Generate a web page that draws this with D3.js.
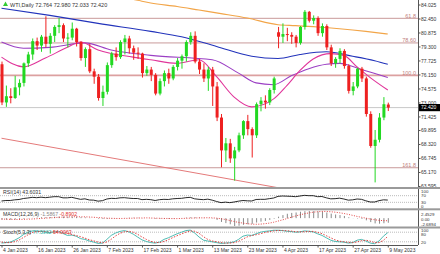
<!DOCTYPE html>
<html>
<head>
<meta charset="utf-8">
<script src="https://cdn.jsdelivr.net/npm/d3@7"></script>
<style>
body { margin: 0; background: #fff; }
svg { display: block; font-family: "Liberation Sans", Arial, sans-serif; }
</style>
</head>
<body>
<svg id="chart" width="440" height="254"></svg>
<script>
// daily bars, 4 Jan 2023 .. 9 May 2023 (bar index 0..88)
const opens  = [77.3,73.0,73.7,73.5,74.7,75.2,77.4,78.4,79.9,79.4,80.4,79.6,80.5,81.5,81.7,80.2,80.3,81.3,79.8,78.0,79.0,76.5,75.9,73.5,74.2,77.2,78.5,78.1,79.8,80.2,79.1,78.6,78.5,76.3,76.7,76.1,74.0,75.4,76.3,75.7,77.0,77.7,78.2,79.8,80.5,77.6,76.7,75.7,76.7,74.8,71.3,67.6,68.4,66.7,67.6,69.3,70.9,70.0,69.3,72.8,73.2,73.0,74.4,80.9,80.4,80.7,80.6,80.4,79.7,81.5,83.2,82.2,82.5,80.8,81.6,79.2,77.4,77.9,78.8,77.1,74.3,74.8,76.8,75.7,71.7,68.1,68.8,71.3,72.764];
const highs  = [77.6,74.9,74.6,76.0,75.6,77.5,78.7,80.2,80.3,80.6,82.7,80.8,81.7,82.5,81.9,80.8,82.0,81.4,79.9,79.2,79.6,76.8,76.2,74.9,77.5,78.7,79.2,80.0,80.6,80.5,79.4,79.2,78.6,77.1,77.0,76.3,75.7,76.6,76.8,77.2,78.0,78.4,80.0,80.9,81.0,77.9,77.4,77.0,77.0,75.3,71.7,69.0,68.9,68.0,69.6,71.0,71.6,70.2,73.0,73.6,73.8,74.6,75.9,81.5,81.9,81.4,80.9,80.6,81.6,83.4,83.3,82.8,82.7,81.9,81.8,79.5,78.1,79.1,79.0,77.3,75.3,76.9,77.0,75.9,72.0,69.9,71.8,73.6,72.980];
const lows   = [72.7,72.5,72.9,73.4,73.8,74.8,77.0,77.8,78.9,78.7,79.2,78.5,79.8,80.8,79.8,79.2,80.0,79.3,77.7,77.0,76.3,75.1,73.2,72.6,73.9,76.9,77.7,77.9,78.4,78.5,77.8,77.9,75.8,76.0,75.4,73.8,73.8,74.8,75.1,75.5,76.6,76.8,77.6,79.5,77.4,76.2,75.3,74.3,72.6,70.9,65.7,66.3,66.2,64.2,67.4,68.9,69.3,66.8,69.0,72.0,72.3,72.7,74.0,79.1,79.7,79.9,79.6,79.2,79.5,81.2,82.0,81.8,80.5,80.4,78.9,77.1,76.9,77.4,76.8,74.0,73.8,74.6,75.3,71.4,67.9,64.0,68.5,71.0,72.033];
const closes = [73.0,73.7,73.5,74.7,75.2,77.4,78.4,79.9,79.4,80.4,79.6,80.5,81.5,81.7,80.2,80.3,81.3,79.8,78.0,79.0,76.5,75.9,73.5,74.2,77.2,78.5,78.1,79.8,80.2,79.1,78.6,78.5,76.3,76.7,76.1,74.0,75.4,76.3,75.7,77.0,77.7,78.2,79.8,80.5,77.6,76.7,75.7,76.7,74.8,71.3,67.6,68.4,66.7,67.6,69.3,70.9,70.0,69.3,72.8,73.2,73.0,74.4,75.7,80.4,80.7,80.6,80.4,79.7,81.5,83.2,82.2,82.5,80.8,81.6,79.2,77.4,77.9,78.8,77.1,74.3,74.8,76.8,75.7,71.7,68.1,68.8,71.3,72.8,72.420];

// moving averages: [bar, price]
const maOrange  = [[20,85.6],[26,85.0],[31,84.5],[34,84.2],[40,83.8],[45,83.4],[50,83.0],[56,82.5],[63,81.75],[67,81.65],[72,81.5],[77,81.3],[83,81.0],[88,80.7]];
const maBlue    = [[0,83.6],[11,82.8],[22,81.9],[34,81.0],[41,80.4],[49,79.3],[57,78.2],[63,77.95],[68,78.4],[74,78.7],[80,78.2],[85,77.7],[88,77.3]];
const maPurple  = [[0,79.8],[5,79.1],[11,79.2],[19,79.7],[25,78.9],[34,78.3],[48,77.8],[54,76.3],[58,75.2],[62,75.0],[66,76.0],[70,76.8],[74,77.3],[77,77.4],[82,76.7],[88,75.8]];
const maMagenta = [[0,78.1],[5,77.0],[10,78.0],[15,79.2],[18,79.8],[22,78.9],[30,78.1],[34,77.8],[40,77.4],[45,77.8],[49,75.9],[53,73.6],[57,72.5],[62,73.4],[65,74.9],[68,76.6],[71,77.9],[75,78.5],[78,78.3],[81,77.0],[84,75.8],[88,74.4]];

const fibLevels = [{label: "61.8", price: 82.47}, {label: "78.60", price: 79.70}, {label: "100.0", price: 76.05}, {label: "161.8", price: 65.65}];
const trendLine = [[0, 68.97], [63, 63.40]];
const lastPrice = 72.420;

const priceTicks = [84.025, 82.450, 80.875, 79.300, 77.725, 76.150, 74.575, 73.000, 71.425, 69.895, 68.320, 66.745, 65.170, 63.595];
const dateTickBars = [0, 8, 16, 24, 32, 40, 48, 56, 64, 72, 80, 88];
const dateTickLabels = ["4 Jan 2023", "16 Jan 2023", "26 Jan 2023", "7 Feb 2023", "17 Feb 2023", "1 Mar 2023", "13 Mar 2023", "23 Mar 2023", "4 Apr 2023", "17 Apr 2023", "27 Apr 2023", "9 May 2023"];

const rsi = [38,41,41,45,47,53,56,60,58,61,58,61,64,64,57,57,60,54,48,51,44,43,37,40,50,54,53,57,58,55,53,53,46,48,46,41,46,48,47,51,53,54,58,60,51,48,46,49,43,35,28,31,28,32,37,41,39,38,47,48,48,52,56,66,68,67,66,64,68,72,70,70,64,65,57,51,52,55,50,43,45,50,48,39,32,32,40,45,43.6];
const macdMain = [-0.5,-0.55,-0.55,-0.5,-0.4,-0.25,-0.1,0.1,0.2,0.3,0.35,0.4,0.5,0.55,0.55,0.5,0.5,0.45,0.35,0.25,0.15,0.0,-0.2,-0.3,-0.25,-0.15,-0.1,0.0,0.1,0.15,0.15,0.15,0.05,0.0,-0.05,-0.2,-0.2,-0.2,-0.2,-0.1,0.0,0.05,0.2,0.3,0.3,0.2,0.1,0.05,-0.1,-0.6,-1.3,-1.7,-2.1,-2.69,-2.6,-2.3,-2.1,-1.95,-1.5,-1.2,-0.95,-0.6,-0.2,0.5,1.05,1.5,1.8,1.95,2.2,2.4,2.45,2.4,2.3,2.2,1.95,1.55,1.25,1.05,0.75,0.3,-0.05,-0.15,-0.3,-0.75,-1.35,-1.8,-1.9,-1.75,-1.5867];
const macdSignal = [-0.3,-0.35,-0.4,-0.45,-0.45,-0.4,-0.35,-0.3,-0.2,-0.1,0.0,0.1,0.2,0.3,0.35,0.4,0.45,0.5,0.45,0.45,0.4,0.3,0.2,0.1,0.0,-0.05,-0.1,-0.1,-0.1,-0.05,0.0,0.05,0.05,0.1,0.05,0.0,-0.05,-0.1,-0.1,-0.15,-0.15,-0.1,-0.05,0.0,0.05,0.1,0.1,0.15,0.1,0.0,-0.2,-0.45,-0.8,-1.15,-1.45,-1.7,-1.9,-2.05,-2.1,-2.05,-1.9,-1.7,-1.4,-1.0,-0.6,-0.15,0.3,0.75,1.15,1.5,1.8,2.05,2.2,2.3,2.3,2.2,2.05,1.85,1.6,1.3,0.95,0.6,0.3,0.0,-0.3,-0.55,-0.75,-0.85,-0.8902];
const stochMain = [12,15,18,30,45,65,80,88,85,86,80,78,82,85,72,60,62,55,40,35,25,18,10,12,35,60,75,85,90,82,68,50,32,22,15,12,18,35,45,58,70,80,90,93,75,50,30,25,20,15,10,12,14,20,35,55,62,60,70,80,85,88,92,92,90,86,84,80,82,88,86,82,70,60,45,30,22,20,18,12,15,30,35,25,12,8,25,55,77.6];
const stochSignal = [18,15,15,21,31,47,63,78,84,86,84,81,80,82,80,72,65,59,52,43,33,26,18,13,19,36,57,73,83,86,80,67,50,35,23,16,15,22,33,46,58,69,80,88,86,73,52,35,25,20,15,12,12,15,23,37,51,59,64,70,78,84,88,91,91,89,87,83,82,83,85,85,79,71,58,45,32,24,20,17,15,19,27,30,24,15,15,29,54];

const svg = d3.select("#chart");
const plotRight = 418;
const green = "#22d822", red = "#ee2020";

const x = d3.scaleLinear().domain([0, 88]).range([1.5, 387.8]);
const yP = d3.scaleLinear().domain([63.595, 84.025]).range([186, 4.5]);

svg.append("rect").attr("width", 440).attr("height", 254).attr("fill", "#fff");

svg.append("clipPath").attr("id", "mainClip")
  .append("rect").attr("x", 0).attr("y", 0).attr("width", plotRight).attr("height", 187);

const main = svg.append("g").attr("clip-path", "url(#mainClip)");

// fibonacci levels
main.selectAll(".fib").data(fibLevels).enter().append("line")
  .attr("x1", 0).attr("x2", plotRight)
  .attr("y1", d => yP(d.price)).attr("y2", d => yP(d.price))
  .attr("stroke", d => d.label === "100.0" ? "#dca0a0" : "#c99a9a")
  .attr("stroke-width", d => d.label === "100.0" ? 1.6 : 1);

// trend line
main.append("line")
  .attr("x1", x(trendLine[0][0])).attr("y1", yP(trendLine[0][1]))
  .attr("x2", x(trendLine[1][0])).attr("y2", yP(trendLine[1][1]))
  .attr("stroke", "#e47a7a").attr("stroke-width", 1);

// last price line
main.append("line")
  .attr("x1", 0).attr("x2", plotRight)
  .attr("y1", yP(lastPrice)).attr("y2", yP(lastPrice))
  .attr("stroke", "#c8c8c8").attr("stroke-width", 1);

// moving averages
const maLine = d3.line().x(d => x(d[0])).y(d => yP(d[1])).curve(d3.curveMonotoneX);
[[maOrange, "#f2a548"], [maBlue, "#2233bb"], [maPurple, "#9b3fc4"], [maMagenta, "#e0359a"]].forEach(([pts, col]) => {
  main.append("path").attr("d", maLine(pts)).attr("fill", "none")
    .attr("stroke", col).attr("stroke-width", 1.1);
});

// candles
const bars = d3.range(opens.length);
main.selectAll(".wick").data(bars).enter().append("line")
  .attr("x1", i => x(i) + 0.5).attr("x2", i => x(i) + 0.5)
  .attr("y1", i => yP(highs[i])).attr("y2", i => yP(lows[i]))
  .attr("stroke", i => closes[i] >= opens[i] ? green : red).attr("stroke-width", 1);
main.selectAll(".body").data(bars).enter().append("rect")
  .attr("x", i => x(i) - 1).attr("width", 3)
  .attr("y", i => yP(Math.max(opens[i], closes[i])))
  .attr("height", i => Math.max(1, Math.abs(yP(opens[i]) - yP(closes[i]))))
  .attr("fill", i => closes[i] >= opens[i] ? green : red);

// fib labels
svg.selectAll(".fibLabel").data(fibLevels).enter().append("text")
  .attr("x", 416).attr("y", d => yP(d.price) - 0.8)
  .attr("text-anchor", "end").attr("font-size", 5.5).attr("fill", "#c08080")
  .text(d => d.label);

// title
svg.append("path").attr("d", "M3,6 L5.5,1.5 L8,6 Z").attr("fill", "#3c3");
svg.append("text").attr("x", 10).attr("y", 6.5).attr("font-size", 5.5).attr("fill", "#333")
  .text("WTI,Daily  72.764 72.980 72.033 72.420");

// price axis
svg.append("line").attr("x1", plotRight + 0.5).attr("x2", plotRight + 0.5).attr("y1", 0).attr("y2", 245)
  .attr("stroke", "#555").attr("stroke-width", 1);
const axP = svg.append("g").attr("transform", `translate(${plotRight + 0.5},0)`)
  .call(d3.axisRight(yP).tickValues(priceTicks).tickSize(2).tickFormat(d3.format(".3f")));
axP.select(".domain").remove();
axP.selectAll("line").attr("stroke", "#555");
axP.selectAll("text").attr("font-size", 5).attr("fill", "#333").attr("x", 2.5)
  .attr("font-family", "Liberation Sans, Arial, sans-serif");

// last price box
svg.append("rect").attr("x", plotRight + 1).attr("y", yP(lastPrice) - 3.6).attr("width", 21).attr("height", 7.2).attr("fill", "#000");
svg.append("text").attr("x", plotRight + 3).attr("y", yP(lastPrice) + 1.8).attr("font-size", 5).attr("fill", "#fff")
  .text(lastPrice.toFixed(3));

// panel separators
[[187, 2], [208.3, 2], [226.5, 2]].forEach(([y0, h]) => {
  svg.append("rect").attr("x", 0).attr("y", y0).attr("width", 440).attr("height", h).attr("fill", "#9a9a9a");
});

const sideLabel = (t, yy) => svg.append("text").attr("x", 421).attr("y", yy)
  .attr("font-size", 4.4).attr("fill", "#333").text(t);

// RSI panel
const yR = d3.scaleLinear().domain([0, 100]).range([207.3, 190.7]);
[70, 30].forEach(v => svg.append("line").attr("x1", 0).attr("x2", plotRight).attr("y1", yR(v)).attr("y2", yR(v))
  .attr("stroke", "#bbb").attr("stroke-dasharray", "1,1"));
svg.append("path").attr("d", d3.line().x((d, i) => x(i)).y(d => yR(d))(rsi))
  .attr("fill", "none").attr("stroke", "#111").attr("stroke-width", 0.9);
svg.append("text").attr("x", 3).attr("y", 193.8).attr("font-size", 5.2).attr("fill", "#333").text("RSI(14) 43.6031");
[[100, 193.0], [70, 196.6], [30, 204.0], [0, 208.0]].forEach(([v, yy]) => sideLabel(v, yy));

// MACD panel
const yM = d3.scaleLinear().domain([-2.6894, 2.4529]).range([226, 211]);
svg.selectAll(".hist").data(bars).enter().append("line")
  .attr("x1", i => x(i) + 0.5).attr("x2", i => x(i) + 0.5)
  .attr("y1", yM(0)).attr("y2", i => yM(macdMain[i]))
  .attr("stroke", "#8a8a8a").attr("stroke-width", 1);
svg.append("path").attr("d", d3.line().x((d, i) => x(i)).y(d => yM(d))(macdSignal))
  .attr("fill", "none").attr("stroke", "#e03030").attr("stroke-width", 0.9).attr("stroke-dasharray", "1,1.5");
const macdLabel = svg.append("text").attr("x", 3).attr("y", 216).attr("font-size", 5.2).attr("fill", "#333");
macdLabel.append("tspan").text("MACD(12,26,9) ");
macdLabel.append("tspan").attr("fill", "#888").text("-1.5867 ");
macdLabel.append("tspan").attr("fill", "#e03030").text("-0.8902");
[["2.4529", 215.8], ["0.00", 220.6], ["-2.6894", 225.6]].forEach(([t, yy]) => sideLabel(t, yy));

// Stochastic panel
const yS = d3.scaleLinear().domain([0, 100]).range([245, 229]);
[80, 20].forEach(v => svg.append("line").attr("x1", 0).attr("x2", plotRight).attr("y1", yS(v)).attr("y2", yS(v))
  .attr("stroke", "#bbb").attr("stroke-dasharray", "1,1"));
svg.append("path").attr("d", d3.line().x((d, i) => x(i)).y(d => yS(d))(stochMain))
  .attr("fill", "none").attr("stroke", "#3bb3aa").attr("stroke-width", 0.9);
svg.append("path").attr("d", d3.line().x((d, i) => x(i)).y(d => yS(d))(stochSignal))
  .attr("fill", "none").attr("stroke", "#e03030").attr("stroke-width", 0.9).attr("stroke-dasharray", "1.5,1.5");
const stLabel = svg.append("text").attr("x", 3).attr("y", 233.5).attr("font-size", 5.2).attr("fill", "#333");
stLabel.append("tspan").text("Stoch(5,3,3) ");
stLabel.append("tspan").attr("fill", "#3bb3aa").text("77.5962 ");
stLabel.append("tspan").attr("fill", "#e03030").text("54.0063");
[[100, 232.2], [80, 236.0], [20, 243.6]].forEach(([v, yy]) => sideLabel(v, yy));

// date axis
svg.append("line").attr("x1", 0).attr("x2", plotRight).attr("y1", 245.5).attr("y2", 245.5).attr("stroke", "#555");
const axD = svg.append("g").attr("transform", "translate(0,245.5)")
  .call(d3.axisBottom(x).tickValues(dateTickBars).tickSize(2).tickFormat((d, i) => dateTickLabels[i]));
axD.select(".domain").remove();
axD.selectAll("line").attr("stroke", "#555");
axD.selectAll("text").attr("font-size", 5).attr("fill", "#333").attr("text-anchor", "start")
  .attr("dx", 1).attr("y", 3).attr("font-family", "Liberation Sans, Arial, sans-serif");
</script>
</body>
</html>
